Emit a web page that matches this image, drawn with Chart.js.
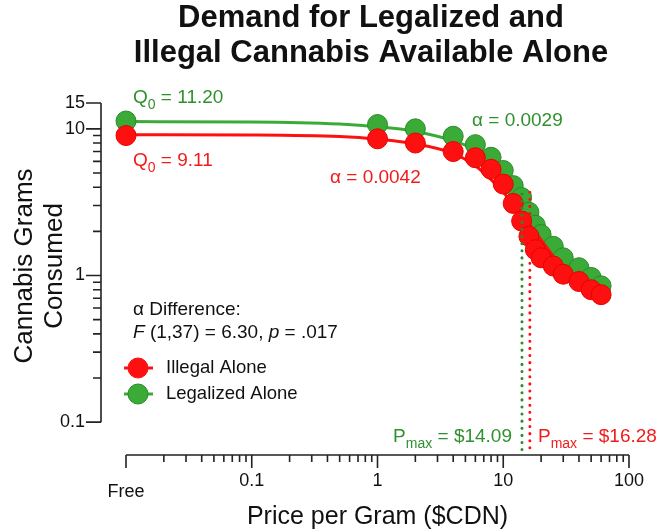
<!DOCTYPE html>
<html>
<head>
<meta charset="utf-8">
<script src="https://cdn.jsdelivr.net/npm/chart.js@4"></script>
<style>
  body { margin: 0; background: #fff; }
  #wrap { width: 657px; height: 532px; }
</style>
</head>
<body>
<div id="wrap"><canvas id="demandChart" width="657" height="532"></canvas></div>
<script>
// prices asked in the task, "Free" is drawn at 0.01 on the log axis
const prices = [0, 1, 2, 4, 6, 8, 10, 12, 14, 16, 18, 20, 25, 30, 40, 50, 60];
const freePos = 0.01;
const legalizedPoints = [11.3, 10.7, 10.0, 8.9, 7.8, 6.4, 5.2, 4.1, 3.4, 2.7, 2.2, 1.9, 1.58, 1.32, 1.13, 0.97, 0.85];
const illegalPoints = [9.0, 8.55, 8.0, 7.0, 6.35, 5.3, 4.2, 3.1, 2.35, 1.85, 1.5, 1.32, 1.16, 1.02, 0.91, 0.8, 0.74];

// fitted curves
const curvePrices = [0.01, 0.1, 0.5, 1, 2, 4, 6, 8, 10, 12, 14, 16, 20, 25, 30, 40, 50, 60];
const legalizedCurve = [11.2, 11.15, 10.8, 10.35, 9.6, 8.3, 7.2, 6.3, 5.4, 4.5, 3.8, 3.2, 2.3, 1.7, 1.38, 1.1, 0.94, 0.84];
const illegalCurve = [9.11, 9.07, 8.85, 8.5, 7.9, 6.8, 5.6, 4.5, 3.7, 3.05, 2.6, 2.25, 1.75, 1.35, 1.1, 0.9, 0.8, 0.73];

const pmaxLegalized = 14.09;
const pmaxIllegal = 16.28;

const xTicks = [0.01, 0.1, 1, 10, 100];
const xTickLabels = ["Free", "0.1", "1", "10", "100"];
const yTicks = [0.1, 1, 10, 15];
const yTickLabels = ["0.1", "1", "10", "15"];

const GREEN = "#3bab37";
const GREEN_DARK = "#2b8a2b";
const GREEN_TEXT = "#2e912e";
const RED = "#ff1010";
const RED_TEXT = "#f01c1c";
const FONT = "'Liberation Sans', Arial, Helvetica, sans-serif";

function toXY(xs, ys) {
    return xs.map((x, i) => ({ x: x === 0 ? freePos : x, y: ys[i] }));
}

function minorTicks(lo, hi) {
    const out = [];
    for (let d = lo; d < hi; d *= 10) {
        for (let m = 2; m <= 9; m++) out.push(d * m);
    }
    return out;
}

// text with a subscript part, e.g. Q0 or Pmax
function subText(ctx, x, y, main, sub, rest, size, align) {
    ctx.font = size + "px " + FONT;
    const w1 = ctx.measureText(main).width;
    ctx.font = Math.round(size * 0.72) + "px " + FONT;
    const w2 = ctx.measureText(sub).width;
    ctx.font = size + "px " + FONT;
    const w3 = ctx.measureText(rest).width;
    let sx = align === "right" ? x - (w1 + w2 + w3) : x;
    ctx.textAlign = "left";
    ctx.textBaseline = "middle";
    ctx.fillText(main, sx, y);
    ctx.font = Math.round(size * 0.72) + "px " + FONT;
    ctx.fillText(sub, sx + w1, y + size * 0.38);
    ctx.font = size + "px " + FONT;
    ctx.fillText(rest, sx + w1 + w2, y);
}

const decor = {
    id: "decor",
    afterDraw(chart) {
        const ctx = chart.ctx;
        const xs = chart.scales.x;
        const ys = chart.scales.y;
        ctx.save();
        ctx.strokeStyle = "#222";
        ctx.fillStyle = "#111";
        ctx.lineWidth = 1.6;

        // y axis, set off to the left
        const axX = xs.left - 25;
        const yTop = ys.getPixelForValue(15);
        const yBot = ys.getPixelForValue(0.1);
        ctx.beginPath();
        ctx.moveTo(axX, yTop);
        ctx.lineTo(axX, yBot);
        yTicks.forEach(v => {
            const p = ys.getPixelForValue(v);
            ctx.moveTo(axX - 15, p);
            ctx.lineTo(axX, p);
        });
        minorTicks(0.1, 10).forEach(v => {
            const p = ys.getPixelForValue(v);
            ctx.moveTo(axX - 8, p);
            ctx.lineTo(axX, p);
        });
        ctx.stroke();
        ctx.font = "18px " + FONT;
        ctx.textAlign = "right";
        ctx.textBaseline = "middle";
        yTicks.forEach((v, i) => {
            ctx.fillText(yTickLabels[i], axX - 16, ys.getPixelForValue(v));
        });

        // x axis, set below the plot
        const axY = ys.bottom;
        const xL = xs.getPixelForValue(0.01);
        const xR = xs.getPixelForValue(100);
        ctx.beginPath();
        ctx.moveTo(xL, axY);
        ctx.lineTo(xR, axY);
        xTicks.forEach(v => {
            const p = xs.getPixelForValue(v);
            ctx.moveTo(p, axY);
            ctx.lineTo(p, axY + 13);
        });
        minorTicks(0.01, 100).forEach(v => {
            const p = xs.getPixelForValue(v);
            ctx.moveTo(p, axY);
            ctx.lineTo(p, axY + 7);
        });
        ctx.stroke();
        ctx.font = "18px " + FONT;
        ctx.textAlign = "center";
        ctx.textBaseline = "middle";
        xTicks.forEach((v, i) => {
            const off = i === 0 ? 37 : 26;
            ctx.fillText(xTickLabels[i], xs.getPixelForValue(v), axY + off);
        });

        // axis titles
        ctx.font = "25px " + FONT;
        ctx.fillText("Price per Gram ($CDN)", (xL + xR) / 2, 517);
        ctx.save();
        ctx.translate(25, 266);
        ctx.rotate(-Math.PI / 2);
        ctx.font = "26px " + FONT;
        ctx.fillText("Cannabis Grams", 0, 0);
        ctx.fillText("Consumed", 0, 30);
        ctx.restore();

        // title
        ctx.font = "bold 31px " + FONT;
        ctx.fillText("Demand for Legalized and", 371, 18);
        ctx.fillText("Illegal Cannabis Available Alone", 371, 53);

        // annotations
        ctx.fillStyle = GREEN_TEXT;
        subText(ctx, 133, 98, "Q", "0", " = 11.20", 19, "left");
        ctx.font = "19px " + FONT;
        ctx.textAlign = "left";
        ctx.fillText("\u03B1 = 0.0029", 472, 121);
        subText(ctx, 512, 437, "P", "max", " = $14.09", 19, "right");
        ctx.fillStyle = RED_TEXT;
        subText(ctx, 133, 161, "Q", "0", " = 9.11", 19, "left");
        ctx.font = "19px " + FONT;
        ctx.textAlign = "left";
        ctx.fillText("\u03B1 = 0.0042", 330, 178);
        subText(ctx, 538, 437, "P", "max", " = $16.28", 19, "left");

        // statistics text
        ctx.fillStyle = "#111";
        ctx.font = "19px " + FONT;
        ctx.textAlign = "left";
        ctx.fillText("\u03B1 Difference:", 133, 310);
        let tx = 133;
        const parts = [["F", true], [" (1,37) = 6.30, ", false], ["p", true], [" = .017", false]];
        parts.forEach(([t, it]) => {
            ctx.font = (it ? "italic " : "") + "19px " + FONT;
            ctx.fillText(t, tx, 333);
            tx += ctx.measureText(t).width;
        });

        // legend
        const legend = [["Illegal Alone", RED, RED, 368], ["Legalized Alone", GREEN, GREEN_DARK, 394]];
        legend.forEach(([label, fill, edge, ly]) => {
            ctx.strokeStyle = fill;
            ctx.lineWidth = 3;
            ctx.beginPath();
            ctx.moveTo(124, ly);
            ctx.lineTo(153, ly);
            ctx.stroke();
            ctx.beginPath();
            ctx.arc(138, ly, 10, 0, Math.PI * 2);
            ctx.fillStyle = fill;
            ctx.fill();
            ctx.lineWidth = 1;
            ctx.strokeStyle = edge;
            ctx.stroke();
            ctx.fillStyle = "#111";
            ctx.font = "18.5px " + FONT;
            ctx.fillText(label, 166, ly);
        });
        ctx.restore();
    }
};

new Chart(document.getElementById("demandChart"), {
    type: "scatter",
    data: {
        datasets: [
            {
                label: "Illegal Alone",
                data: toXY(prices, illegalPoints),
                backgroundColor: RED,
                borderColor: "#e80000",
                borderWidth: 1,
                pointRadius: 10,
                clip: false,
                order: 1
            },
            {
                type: "line",
                data: toXY(curvePrices, illegalCurve),
                borderColor: RED,
                borderWidth: 3,
                pointRadius: 0,
                cubicInterpolationMode: "monotone",
                clip: false,
                order: 2
            },
            {
                label: "Legalized Alone",
                data: toXY(prices, legalizedPoints),
                backgroundColor: GREEN,
                borderColor: GREEN_DARK,
                borderWidth: 1,
                pointRadius: 10,
                clip: false,
                order: 3
            },
            {
                type: "line",
                data: toXY(curvePrices, legalizedCurve),
                borderColor: GREEN,
                borderWidth: 3,
                pointRadius: 0,
                cubicInterpolationMode: "monotone",
                clip: false,
                order: 4
            },
            {
                type: "line",
                data: [{ x: pmaxLegalized, y: 3.6 }, { x: pmaxLegalized, y: 0.063 }],
                borderColor: GREEN_DARK,
                borderWidth: 3,
                borderDash: [0.1, 7],
                borderCapStyle: "round",
                pointRadius: 0,
                clip: false,
                order: 0
            },
            {
                type: "line",
                data: [{ x: pmaxIllegal, y: 3.7 }, { x: pmaxIllegal, y: 0.063 }],
                borderColor: RED,
                borderWidth: 3,
                borderDash: [0.1, 7],
                borderCapStyle: "round",
                pointRadius: 0,
                clip: false,
                order: 0
            }
        ]
    },
    options: {
        responsive: false,
        animation: false,
        layout: { padding: { left: 126, right: 28, top: 103, bottom: 77 } },
        plugins: { legend: { display: false }, tooltip: { enabled: false } },
        scales: {
            x: { type: "logarithmic", min: 0.01, max: 100, display: false },
            y: { type: "logarithmic", min: 0.0597, max: 15, display: false }
        }
    },
    plugins: [decor]
});
</script>
</body>
</html>
